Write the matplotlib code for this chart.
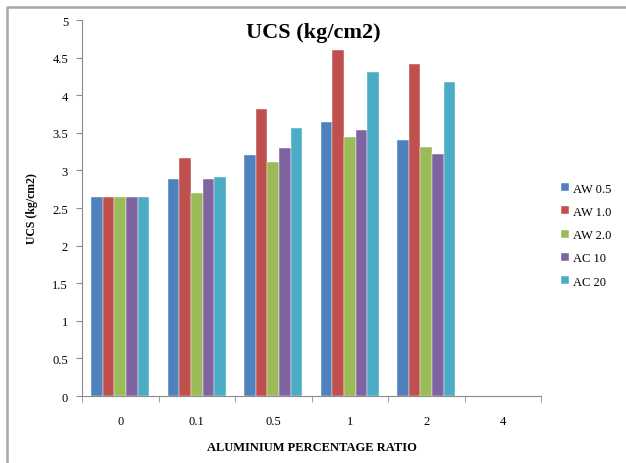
import numpy as np
import matplotlib.pyplot as plt
from matplotlib.lines import Line2D

plt.rcParams['font.family'] = ['Liberation Serif', 'DejaVu Serif']

ratios = ['0', '0.1', '0.5', '1', '2', '4']
series = ['AW 0.5', 'AW 1.0', 'AW 2.0', 'AC 10', 'AC 20']
aw05 = [2.64, 2.88, 3.21, 3.64, 3.41, np.nan]
aw10 = [2.64, 3.16, 3.81, 4.60, 4.41, np.nan]
aw20 = [2.64, 2.70, 3.11, 3.45, 3.31, np.nan]
ac10 = [2.64, 2.88, 3.30, 3.54, 3.22, np.nan]
ac20 = [2.64, 2.91, 3.57, 4.31, 4.18, np.nan]
colors = ['#4F81BD', '#C0504D', '#9BBB59', '#8064A2', '#4BACC6']

fig = plt.figure(figsize=(6.26, 4.64), dpi=100)
# chart frame: only left and top edges are visible in the crop
fig.lines.append(Line2D([7/626, 7/626, 1], [0, 1 - 7.5/464, 1 - 7.5/464],
                        transform=fig.transFigure, color='#a6a6a6', linewidth=1.8))
ax = fig.add_axes([82/626, 1 - 397/464, 459/626, 376/464])

x = np.arange(len(ratios))
w = 0.152
for i, (vals, name) in enumerate(zip([aw05, aw10, aw20, ac10, ac20], series)):
    ax.bar(x + (i - 2) * w, vals, w, color=colors[i], label=name,
           edgecolor='white', linewidth=0.3)

ax.set_xlim(-0.5, len(ratios) - 0.5)
ax.set_ylim(0, 5)
ax.set_yticks(np.arange(0, 5.01, 0.5))
ax.set_yticklabels(['0', '0.5', '1', '1.5', '2', '2.5', '3', '3.5', '4', '4.5', '5'])
ax.set_xticks(x)
ax.set_xticklabels(ratios)
ax.set_xticks(np.arange(-0.5, len(ratios), 1), minor=True)
ax.tick_params(axis='x', which='major', length=0, pad=14, labelsize=9)
ax.tick_params(axis='x', which='minor', length=4, color='#8c8c8c')
ax.tick_params(axis='y', length=4, direction='out', color='#8c8c8c', labelsize=9, pad=6)
for s in ['top', 'right']:
    ax.spines[s].set_visible(False)
for s in ['left', 'bottom']:
    ax.spines[s].set_color('#8c8c8c')

ax.set_xlabel('ALUMINIUM PERCENTAGE RATIO', fontsize=9, fontweight='bold', labelpad=10)
ax.set_ylabel('UCS (kg/cm2)', fontsize=8.5, fontweight='bold', labelpad=10)
fig.text(0.5, 1 - 33/464, 'UCS (kg/cm2)', ha='center', va='center', fontsize=16, fontweight='bold')

ax.legend(loc='center left', bbox_to_anchor=(1.02, 0.428), frameon=False, fontsize=9,
          handlelength=0.6, handleheight=0.6, handletextpad=0.3, labelspacing=0.9)

fig.savefig('out.png', dpi=100)
